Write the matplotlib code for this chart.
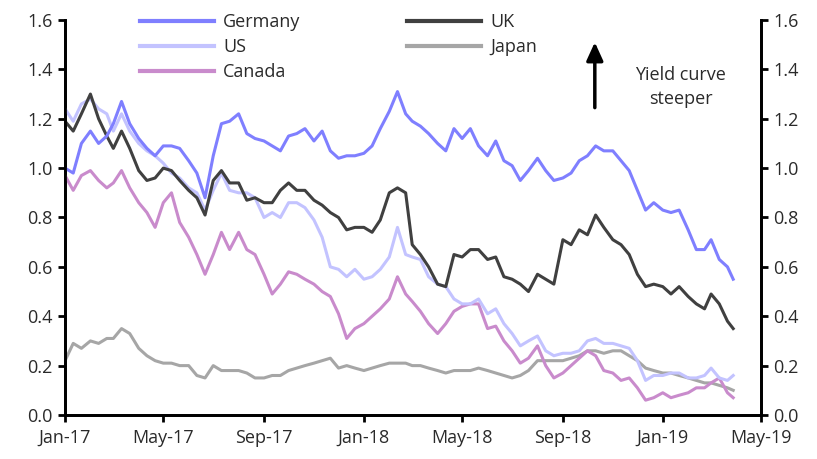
import matplotlib
matplotlib.use("Agg")
import matplotlib.pyplot as plt
import matplotlib.dates as mdates
import pandas as pd

plt.rcParams['font.family'] = ['Open Sans', 'DejaVu Sans']

# sample dates: 1st, 11th and 21st of each month, last obs 28 Mar 2019
dates = [pd.Timestamp(2017 + (i // 12), i % 12 + 1, d)
         for i in range(27) for d in (1, 11, 21)] + [pd.Timestamp(2019, 3, 28)]

germany = [1.00, 0.98, 1.10, 1.15, 1.10, 1.13, 1.18, 1.27, 1.18, 1.12,
           1.08, 1.05, 1.09, 1.09, 1.08, 1.03, 0.98, 0.88, 1.05, 1.18,
           1.19, 1.22, 1.14, 1.12, 1.11, 1.09, 1.07, 1.13, 1.14, 1.16,
           1.11, 1.15, 1.07, 1.04, 1.05, 1.05, 1.06, 1.09, 1.16, 1.23,
           1.31, 1.22, 1.19, 1.17, 1.14, 1.10, 1.07, 1.16, 1.12, 1.16,
           1.09, 1.05, 1.11, 1.03, 1.01, 0.95, 0.99, 1.04, 0.99, 0.95,
           0.96, 0.98, 1.03, 1.05, 1.09, 1.07, 1.07, 1.03, 0.99, 0.91,
           0.83, 0.86, 0.83, 0.82, 0.83, 0.75, 0.67, 0.67, 0.71, 0.63,
           0.60, 0.55]
uk = [1.19, 1.15, 1.22, 1.30, 1.20, 1.13, 1.08, 1.15, 1.08, 0.99,
      0.95, 0.96, 1.00, 0.99, 0.95, 0.91, 0.88, 0.81, 0.95, 0.99,
      0.94, 0.94, 0.87, 0.88, 0.86, 0.86, 0.91, 0.94, 0.91, 0.91,
      0.87, 0.85, 0.82, 0.80, 0.75, 0.76, 0.76, 0.74, 0.79, 0.90,
      0.92, 0.90, 0.69, 0.65, 0.60, 0.53, 0.52, 0.65, 0.64, 0.67,
      0.67, 0.63, 0.64, 0.56, 0.55, 0.53, 0.50, 0.57, 0.55, 0.53,
      0.71, 0.69, 0.75, 0.73, 0.81, 0.76, 0.71, 0.69, 0.65, 0.57,
      0.52, 0.53, 0.52, 0.49, 0.52, 0.48, 0.45, 0.43, 0.49, 0.45,
      0.38, 0.35]
us = [1.24, 1.19, 1.26, 1.28, 1.24, 1.22, 1.15, 1.22, 1.15, 1.10,
      1.07, 1.05, 1.02, 0.98, 0.96, 0.92, 0.90, 0.83, 0.91, 0.98,
      0.91, 0.90, 0.90, 0.88, 0.80, 0.82, 0.80, 0.86, 0.86, 0.84,
      0.79, 0.72, 0.60, 0.59, 0.56, 0.59, 0.55, 0.56, 0.59, 0.64,
      0.76, 0.65, 0.64, 0.63, 0.56, 0.53, 0.52, 0.47, 0.45, 0.45,
      0.47, 0.41, 0.43, 0.37, 0.33, 0.28, 0.30, 0.32, 0.26, 0.24,
      0.25, 0.25, 0.26, 0.30, 0.31, 0.29, 0.29, 0.28, 0.27, 0.22,
      0.14, 0.16, 0.16, 0.17, 0.17, 0.15, 0.15, 0.16, 0.19, 0.15,
      0.14, 0.16]
japan = [0.22, 0.29, 0.27, 0.30, 0.29, 0.31, 0.31, 0.35, 0.33, 0.27,
         0.24, 0.22, 0.21, 0.21, 0.20, 0.20, 0.16, 0.15, 0.20, 0.18,
         0.18, 0.18, 0.17, 0.15, 0.15, 0.16, 0.16, 0.18, 0.19, 0.20,
         0.21, 0.22, 0.23, 0.19, 0.20, 0.19, 0.18, 0.19, 0.20, 0.21,
         0.21, 0.21, 0.20, 0.20, 0.19, 0.18, 0.17, 0.18, 0.18, 0.18,
         0.19, 0.18, 0.17, 0.16, 0.15, 0.16, 0.18, 0.22, 0.22, 0.22,
         0.22, 0.23, 0.24, 0.26, 0.26, 0.25, 0.26, 0.26, 0.24, 0.22,
         0.19, 0.18, 0.17, 0.17, 0.16, 0.15, 0.14, 0.13, 0.13, 0.12,
         0.11, 0.10]
canada = [0.97, 0.91, 0.97, 0.99, 0.95, 0.92, 0.94, 0.99, 0.92, 0.86,
          0.82, 0.76, 0.86, 0.90, 0.78, 0.72, 0.65, 0.57, 0.65, 0.74,
          0.67, 0.74, 0.67, 0.65, 0.57, 0.49, 0.53, 0.58, 0.57, 0.55,
          0.53, 0.50, 0.48, 0.41, 0.31, 0.35, 0.37, 0.40, 0.43, 0.47,
          0.56, 0.49, 0.46, 0.42, 0.37, 0.33, 0.37, 0.42, 0.44, 0.45,
          0.45, 0.35, 0.36, 0.30, 0.26, 0.21, 0.23, 0.28, 0.20, 0.15,
          0.17, 0.20, 0.23, 0.26, 0.24, 0.18, 0.17, 0.14, 0.15, 0.11,
          0.06, 0.07, 0.09, 0.07, 0.08, 0.09, 0.11, 0.11, 0.13, 0.15,
          0.09, 0.07]

series = [
    ('Germany', germany, '#7f7fff'),
    ('US', us, '#c3c3ff'),
    ('Canada', canada, '#c98bcc'),
    ('UK', uk, '#404040'),
    ('Japan', japan, '#a6a6a6'),
]
draw_order = ['Japan', 'Canada', 'US', 'UK', 'Germany']
text_color = '#2a2a2a'

fig = plt.figure(figsize=(8.17, 4.59), dpi=100)
ax = fig.add_axes([0.0796, 0.0959, 0.8519, 0.8605])

lines = {}
for name, vals, color in series:
    z = 2 + draw_order.index(name)
    lines[name], = ax.plot(dates, vals, color=color, linewidth=2.2, zorder=z,
                           label=name)

ax.set_ylim(0, 1.6)
ax.set_yticks([0.0, 0.2, 0.4, 0.6, 0.8, 1.0, 1.2, 1.4, 1.6])
ax.yaxis.set_major_formatter(plt.FormatStrFormatter('%.1f'))
ax.set_xlim(pd.Timestamp(2017, 1, 1), pd.Timestamp(2019, 5, 1))
ax.xaxis.set_major_locator(mdates.MonthLocator(bymonth=[1, 5, 9]))
ax.xaxis.set_major_formatter(mdates.DateFormatter('%b-%y'))

ax2 = ax.twinx()
ax2.set_ylim(0, 1.6)
ax2.set_yticks([0.0, 0.2, 0.4, 0.6, 0.8, 1.0, 1.2, 1.4, 1.6])
ax2.yaxis.set_major_formatter(plt.FormatStrFormatter('%.1f'))

for a in (ax, ax2):
    a.spines['top'].set_visible(False)
    for s in ('left', 'right', 'bottom'):
        a.spines[s].set_linewidth(2.0)
        a.spines[s].set_color('black')
    a.tick_params(axis='both', direction='out', length=5, width=2,
                  labelsize=13, colors='black', labelcolor=text_color)
ax.tick_params(axis='x', pad=5)
ax.tick_params(axis='y', pad=4)
ax2.tick_params(axis='y', pad=4)

handles = [lines[n] for n in ('Germany', 'US', 'Canada', 'UK', 'Japan')]
leg = ax.legend(handles=handles, ncol=2, loc='upper left',
                bbox_to_anchor=(0.108, 1.018), frameon=False,
                fontsize=13, handlelength=4.1, handletextpad=0.5,
                columnspacing=5.9, labelspacing=0.4, borderpad=0,
                borderaxespad=0)
for t in leg.get_texts():
    t.set_color(text_color)
for h in leg.get_lines():
    h.set_linewidth(3.0)

# arrow and note
ax.annotate('', xy=(pd.Timestamp(2018, 10, 10), 1.51),
            xytext=(pd.Timestamp(2018, 10, 10), 1.245),
            arrowprops=dict(arrowstyle='-|>,head_length=1.1,head_width=0.5',
                            color='black', lw=2.5, shrinkA=0, shrinkB=0))
ax.text(pd.Timestamp(2019, 1, 23), 1.33, 'Yield curve\nsteeper',
        ha='center', va='center', fontsize=13, color=text_color,
        linespacing=1.45)

fig.savefig('out.png', dpi=100)
